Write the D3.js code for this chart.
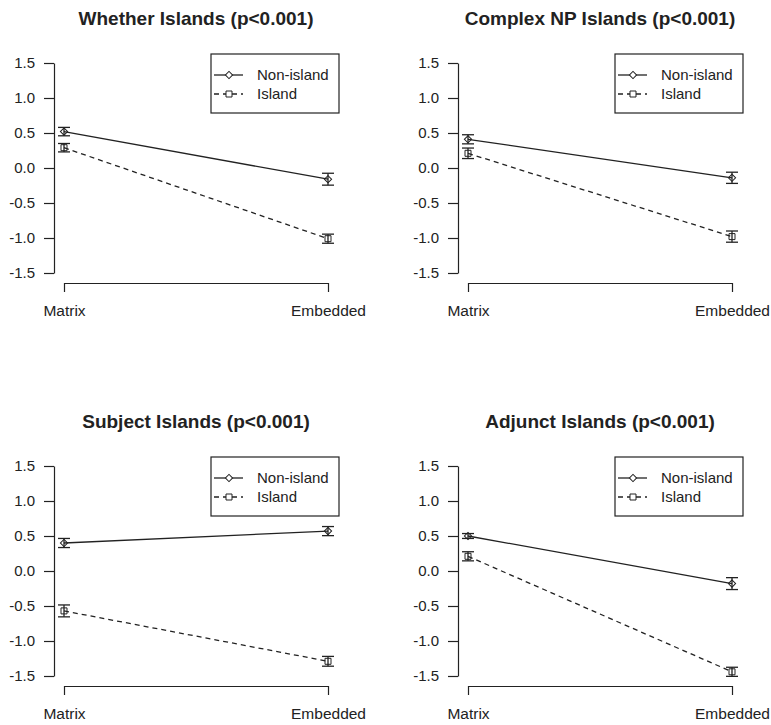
<!DOCTYPE html>
<html>
<head>
<meta charset="utf-8">
<script src="https://cdn.jsdelivr.net/npm/d3@7"></script>
<style>
  body { margin: 0; background: #fff; }
  text { font-family: "Liberation Sans", Arial, sans-serif; fill: #222; }
</style>
</head>
<body>
<div id="chart"></div>
<script>
// values
const conditions = ["Matrix", "Embedded"];
const titles = [
  "Whether Islands (p<0.001)",
  "Complex NP Islands (p<0.001)",
  "Subject Islands (p<0.001)",
  "Adjunct Islands (p<0.001)"
];
const nonIslandMeans = [[0.52, -0.16], [0.41, -0.14], [0.40, 0.57], [0.50, -0.18]];
const nonIslandErr   = [[0.06, 0.085], [0.065, 0.08], [0.065, 0.065], [0.035, 0.085]];
const islandMeans    = [[0.29, -1.01], [0.21, -0.98], [-0.57, -1.29], [0.21, -1.44]];
const islandErr      = [[0.06, 0.065], [0.075, 0.08], [0.085, 0.07], [0.065, 0.065]];
const yTicks = [-1.5, -1.0, -0.5, 0.0, 0.5, 1.0, 1.5];
const seriesNames = ["Non-island", "Island"];

const width = 771, height = 725;
const ink = "#222";
const offsets = [[0, 0], [404, 0], [0, 403], [404, 403]];

const svg = d3.select("#chart").append("svg")
  .attr("width", width)
  .attr("height", height);

const x = d3.scalePoint().domain(conditions).range([64, 328]);
const y = d3.scaleLinear().domain([-1.5, 1.5]).range([273, 63]);

const diamond = d3.symbol(d3.symbolSquare, 26);
const square = d3.symbol(d3.symbolSquare, 36);

titles.forEach((title, i) => {
  const g = svg.append("g")
    .attr("transform", `translate(${offsets[i][0]},${offsets[i][1]})`);

  g.append("text")
    .attr("x", 196).attr("y", 25)
    .attr("text-anchor", "middle")
    .style("font-size", "19px")
    .style("font-weight", "bold")
    .text(title);

  // y axis
  const ya = g.append("g")
    .attr("transform", "translate(54,0)")
    .call(d3.axisLeft(y).tickValues(yTicks).tickFormat(d => d.toFixed(1))
      .tickSize(10).tickSizeOuter(0).tickPadding(9));
  ya.selectAll("path, line").attr("stroke", ink).attr("stroke-width", 1.2);
  ya.selectAll("text").style("font-size", "15px").style("font-family", "Liberation Sans, Arial, sans-serif").attr("fill", ink);

  // x axis
  const xa = g.append("g")
    .attr("transform", "translate(0,283)")
    .call(d3.axisBottom(x).tickSize(9).tickSizeOuter(0).tickPadding(13));
  xa.selectAll("path, line").attr("stroke", ink).attr("stroke-width", 1.2);
  xa.selectAll("text").style("font-size", "15.5px").style("font-family", "Liberation Sans, Arial, sans-serif").attr("fill", ink);

  const series = [
    { means: nonIslandMeans[i], errs: nonIslandErr[i], dash: null, sym: diamond, rot: 45 },
    { means: islandMeans[i], errs: islandErr[i], dash: "5,4", sym: square, rot: 0 }
  ];

  series.forEach(s => {
    const pts = conditions.map((c, j) => ({ c, m: s.means[j], e: s.errs[j] }));
    g.append("path")
      .datum(pts)
      .attr("fill", "none")
      .attr("stroke", ink)
      .attr("stroke-width", 1.3)
      .attr("stroke-dasharray", s.dash)
      .attr("d", d3.line().x(d => x(d.c)).y(d => y(d.m)));

    const eb = g.append("g").selectAll("g").data(pts).join("g");
    eb.append("line")
      .attr("x1", d => x(d.c)).attr("x2", d => x(d.c))
      .attr("y1", d => y(d.m - d.e)).attr("y2", d => y(d.m + d.e));
    eb.append("line")
      .attr("x1", d => x(d.c) - 6).attr("x2", d => x(d.c) + 6)
      .attr("y1", d => y(d.m - d.e)).attr("y2", d => y(d.m - d.e));
    eb.append("line")
      .attr("x1", d => x(d.c) - 6).attr("x2", d => x(d.c) + 6)
      .attr("y1", d => y(d.m + d.e)).attr("y2", d => y(d.m + d.e));
    eb.selectAll("line").attr("stroke", ink).attr("stroke-width", 1.3);
    eb.append("path")
      .attr("d", s.sym)
      .attr("transform", d => `translate(${x(d.c)},${y(d.m)}) rotate(${s.rot})`)
      .attr("fill", "none")
      .attr("stroke", ink)
      .attr("stroke-width", 1);
  });

  // legend
  const lg = g.append("g");
  lg.append("rect")
    .attr("x", 211).attr("y", 54).attr("width", 128).attr("height", 59)
    .attr("fill", "#fff").attr("stroke", ink).attr("stroke-width", 1.2);
  seriesNames.forEach((name, k) => {
    const ly = 75 + k * 19;
    lg.append("line")
      .attr("x1", 214).attr("x2", 243).attr("y1", ly).attr("y2", ly)
      .attr("stroke", ink).attr("stroke-width", 1.3)
      .attr("stroke-dasharray", k === 1 ? "5,4" : null);
    lg.append("path")
      .attr("d", k === 0 ? diamond : square)
      .attr("transform", `translate(229,${ly}) rotate(${k === 0 ? 45 : 0})`)
      .attr("fill", "#fff").attr("stroke", ink).attr("stroke-width", 1);
    lg.append("text")
      .attr("x", 257).attr("y", ly).attr("dy", "0.35em")
      .style("font-size", "15px")
      .text(name);
  });
});
</script>
</body>
</html>
